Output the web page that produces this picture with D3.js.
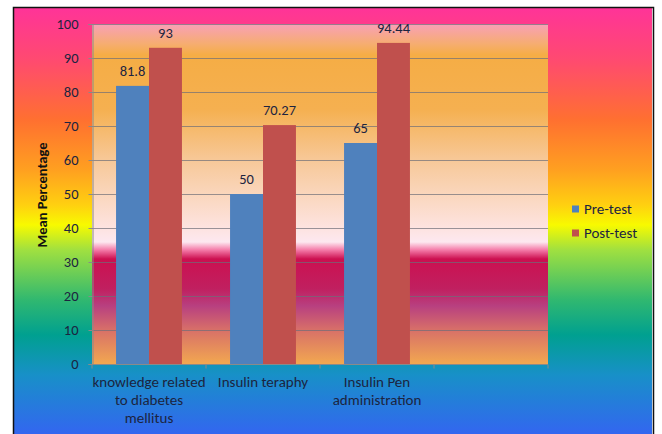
<!DOCTYPE html>
<html><head><meta charset="utf-8">
<script src="https://cdn.jsdelivr.net/npm/d3@7"></script>
<style>html,body{margin:0;padding:0;background:#fff;}svg{display:block;}</style>
</head><body>
<svg id="chart" width="662" height="434"></svg>
<script>
const categories = [["knowledge related","to diabetes","mellitus"],["Insulin teraphy"],["Insulin Pen","administration"],[""]];
const categoryKeys = ["c1","c2","c3","c4"];
const seriesNames = ["Pre-test","Post-test"];
const preTest = [81.8, 50, 65, null];
const postTest = [93, 70.27, 94.44, null];
const preLabels = ["81.8","50","65",""];
const postLabels = ["93","70.27","94.44",""];
const yTicks = [0,10,20,30,40,50,60,70,80,90,100];
const seriesColors = ["#4f81bd","#c0504d"];

const svg = d3.select("#chart");
const font = "Carlito, Lato, 'Open Sans', sans-serif";
const txt = "#1c2440";
const defs = svg.append("defs");

// outer background gradient
const bgStops = [[7,"#ff3399"],[60,"#ff4a70"],[120,"#ff7030"],[170,"#ffa020"],[205,"#ffd010"],[225,"#f8fa00"],[250,"#a0e040"],[300,"#30b870"],[335,"#00a090"],[375,"#1890c8"],[434,"#3366f0"]];
const bg = defs.append("linearGradient").attr("id","bg").attr("x1",0).attr("y1",0).attr("x2",0).attr("y2",1);
bg.selectAll("stop").data(bgStops).join("stop").attr("offset",d=>(d[0]-7)/427).attr("stop-color",d=>d[1]);
svg.append("rect").attr("x",13).attr("y",7).attr("width",639).attr("height",427).attr("fill","url(#bg)");
svg.append("path").attr("d","M13.5,434 V7.5 H653.5 V434").attr("fill","none").attr("stroke","#111").attr("stroke-width",1.5);

const x0 = 92, x1 = 548, yTop = 24, yBot = 364;
const x = d3.scaleBand().domain(categoryKeys).range([x0,x1]).padding(0);
const xs = d3.scaleBand().domain(seriesNames).range([0,x.bandwidth()]).paddingInner(0).paddingOuter(0.73);
const y = d3.scaleLinear().domain([0,100]).range([yBot,yTop]);

// plot area gradient
const paStops = [[24,"#f8a0b8"],[44,"#f6ad70"],[55,"#f5ad45"],[109,"#f5b050"],[160,"#f7c898"],[194,"#fad6bc"],[228,"#fde3e0"],[242,"#fde8f0"],[250,"#f47aa8"],[259,"#cc1050"],[289,"#c02060"],[306,"#b84080"],[330,"#d87068"],[364,"#f2a850"]];
const pa = defs.append("linearGradient").attr("id","pa").attr("x1",0).attr("y1",0).attr("x2",0).attr("y2",1);
pa.selectAll("stop").data(paStops).join("stop").attr("offset",d=>(d[0]-24)/340).attr("stop-color",d=>d[1]);
svg.append("rect").attr("x",x0).attr("y",yTop).attr("width",x1-x0).attr("height",yBot-yTop).attr("fill","url(#pa)");

// gridlines
svg.append("g").selectAll("line").data(yTicks.filter(t=>t>0)).join("line")
  .attr("x1",x0).attr("x2",x1).attr("y1",d=>Math.round(y(d))+0.5).attr("y2",d=>Math.round(y(d))+0.5)
  .attr("stroke","rgba(110,110,120,0.7)").attr("stroke-width",1);

// bars
const rows = categoryKeys.map((k,i)=>({k, vals:[preTest[i],postTest[i]], labels:[preLabels[i],postLabels[i]]}));
const g = svg.append("g");
rows.forEach(r=>{
  seriesNames.forEach((s,j)=>{
    if (r.vals[j]==null) return;
    const bx = x(r.k)+xs(s);
    g.append("rect").attr("x",bx).attr("y",y(r.vals[j])).attr("width",xs.bandwidth()).attr("height",yBot-y(r.vals[j])).attr("fill",seriesColors[j]);
    g.append("text").attr("x",bx+xs.bandwidth()/2).attr("y",y(r.vals[j])-10).attr("text-anchor","middle")
      .attr("font-family",font).attr("font-size",14.5).attr("fill",txt).text(r.labels[j]);
  });
});

// y axis
const yAxis = d3.axisLeft(y).tickValues(yTicks).tickSize(4).tickPadding(10);
const ya = svg.append("g").attr("transform",`translate(${x0+0.5},0)`).call(yAxis);
ya.select(".domain").attr("stroke","#8a8a8a");
ya.selectAll(".tick line").attr("stroke","#8a8a8a");
ya.selectAll(".tick text").attr("font-family",font).attr("font-size",14.5).attr("fill",txt);

// x axis
const xa = svg.append("g").attr("transform",`translate(0,${yBot+0.5})`);
xa.append("line").attr("x1",x0).attr("x2",x1).attr("stroke","#8a8a8a");
xa.selectAll(".tk").data(categoryKeys.concat(["end"])).join("line")
  .attr("x1",(d,i)=>i<4?x(d):x1).attr("x2",(d,i)=>i<4?x(d):x1).attr("y1",0).attr("y2",4).attr("stroke","#8a8a8a");
categoryKeys.forEach((k,i)=>{
  const t = xa.append("text").attr("text-anchor","middle").attr("font-family",font).attr("font-size",15).attr("fill",txt);
  categories[i].forEach((line,li)=>{
    t.append("tspan").attr("x",x(k)+x.bandwidth()/2).attr("y",22+li*18).text(line);
  });
});

// y title
svg.append("text").attr("transform","translate(47,195) rotate(-90)").attr("text-anchor","middle")
  .attr("font-family",font).attr("font-size",14.5).attr("font-weight","bold").attr("fill","#111").text("Mean Percentage");

// legend
const lg = svg.append("g");
seriesNames.forEach((s,i)=>{
  const cy = 209 + i*24;
  lg.append("rect").attr("x",572).attr("y",cy-3.5).attr("width",7).attr("height",7).attr("fill",seriesColors[i]);
  lg.append("text").attr("x",584).attr("y",cy+5).attr("font-family",font).attr("font-size",15).attr("fill",txt).text(s);
});
</script>
</body></html>
